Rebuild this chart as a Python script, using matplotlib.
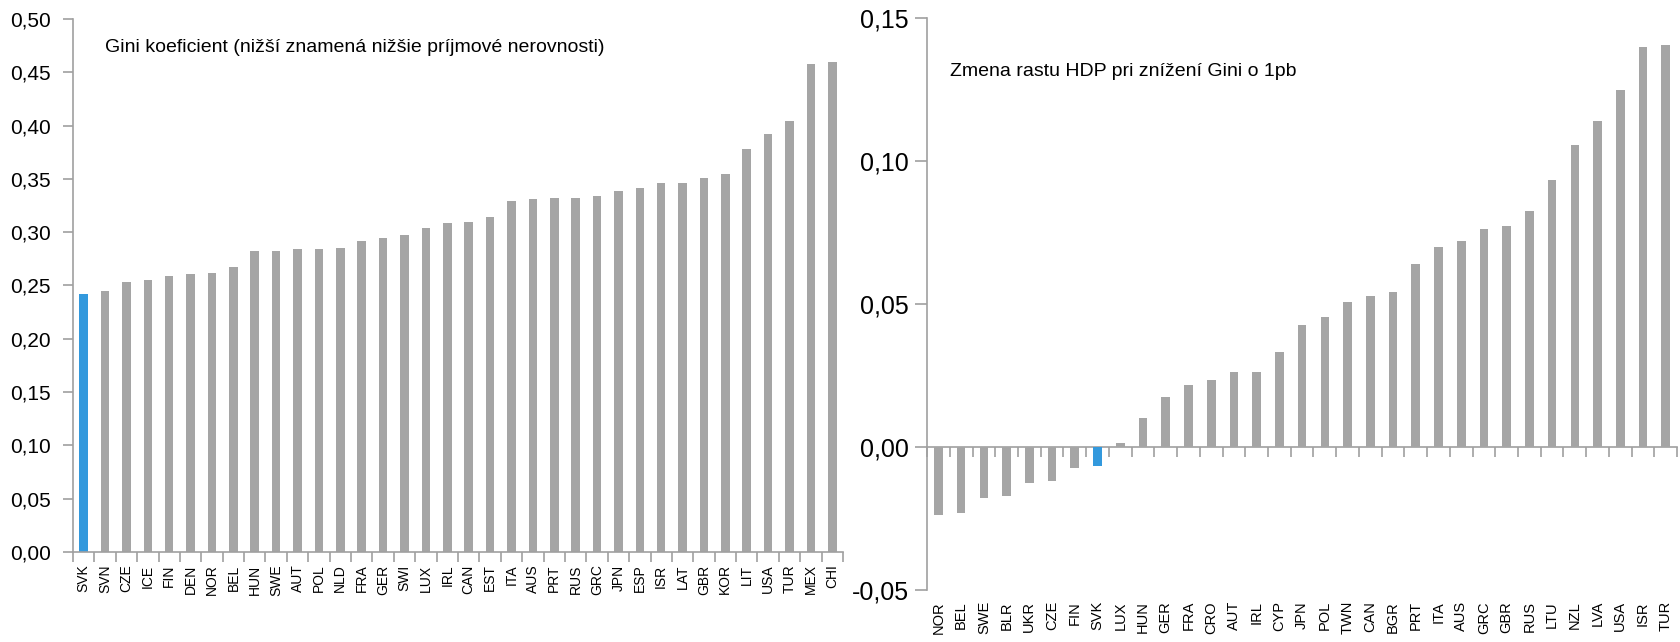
import numpy as np
import matplotlib as mpl
mpl.use('Agg')
import matplotlib.pyplot as plt
from matplotlib.ticker import FuncFormatter

# data: Gini coefficient
gini_countries = ['SVK', 'SVN', 'CZE', 'ICE', 'FIN', 'DEN', 'NOR', 'BEL', 'HUN', 'SWE',
                  'AUT', 'POL', 'NLD', 'FRA', 'GER', 'SWI', 'LUX', 'IRL', 'CAN', 'EST',
                  'ITA', 'AUS', 'PRT', 'RUS', 'GRC', 'JPN', 'ESP', 'ISR', 'LAT', 'GBR',
                  'KOR', 'LIT', 'USA', 'TUR', 'MEX', 'CHI']
gini_values = [0.242, 0.245, 0.253, 0.255, 0.259, 0.261, 0.262, 0.267, 0.282, 0.282,
               0.284, 0.284, 0.285, 0.292, 0.295, 0.297, 0.304, 0.309, 0.310, 0.314,
               0.329, 0.331, 0.332, 0.332, 0.334, 0.339, 0.341, 0.346, 0.346, 0.351,
               0.355, 0.378, 0.392, 0.404, 0.458, 0.460]

# data: change of GDP growth when Gini falls by 1pp
gdp_countries = ['NOR', 'BEL', 'SWE', 'BLR', 'UKR', 'CZE', 'FIN', 'SVK', 'LUX', 'HUN',
                 'GER', 'FRA', 'CRO', 'AUT', 'IRL', 'CYP', 'JPN', 'POL', 'TWN', 'CAN',
                 'BGR', 'PRT', 'ITA', 'AUS', 'GRC', 'GBR', 'RUS', 'LTU', 'NZL', 'LVA',
                 'USA', 'ISR', 'TUR']
gdp_values = [-0.0238, -0.0230, -0.0177, -0.0170, -0.0126, -0.0118, -0.0073, -0.0065, 0.0013, 0.0101,
              0.0174, 0.0218, 0.0234, 0.0262, 0.0262, 0.0331, 0.0427, 0.0455, 0.0506, 0.0528,
              0.0543, 0.0639, 0.0699, 0.0720, 0.0763, 0.0771, 0.0824, 0.0933, 0.1056, 0.1140,
              0.1248, 0.1397, 0.1406]

highlight = 'SVK'
gray = '#a5a5a5'
blue = '#3399dd'
axis_color = '#a0a0a0'

plt.rcParams['font.family'] = ['Liberation Sans Narrow', 'Liberation Sans', 'DejaVu Sans']

fmt = FuncFormatter(lambda v, p: ('%.2f' % v).replace('.', ','))

fig = plt.figure(figsize=(16.81, 6.42), dpi=100)


def style_axes(ax, n):
    for s in ['top', 'right']:
        ax.spines[s].set_visible(False)
    for s in ['left', 'bottom']:
        ax.spines[s].set_color(axis_color)
        ax.spines[s].set_linewidth(1.2)
    ax.set_xlim(-0.5, n - 0.5)
    ax.tick_params(axis='y', colors=axis_color, labelcolor='black', length=7, width=1.2)
    ax.yaxis.set_major_formatter(fmt)


def bar_colors(names):
    return [blue if c == highlight else gray for c in names]


# left chart
ax1 = fig.add_axes([0.0434, 0.1402, 0.4581, 0.8302])
n1 = len(gini_countries)
x1 = np.arange(n1)
ax1.bar(x1, gini_values, width=0.4, color=bar_colors(gini_countries))
style_axes(ax1, n1)
ax1.set_ylim(0, 0.5)
ax1.set_yticks(np.arange(0, 0.501, 0.05))
ax1.tick_params(axis='y', labelsize=15, pad=9)
ax1.set_xticks(np.arange(n1 + 1) - 0.5)
ax1.set_xticklabels([])
ax1.set_xticks(x1, minor=True)
ax1.set_xticklabels(gini_countries, minor=True, rotation=90, fontsize=10)
ax1.tick_params(axis='x', which='major', colors=axis_color, length=7, width=1.2)
ax1.tick_params(axis='x', which='minor', length=0, pad=9)
ax1.text(0.042, 0.947, 'Gini koeficient (nižší znamená nižšie príjmové nerovnosti)',
         transform=ax1.transAxes, fontsize=14, va='center')

# right chart
ax2 = fig.add_axes([0.5515, 0.0810, 0.4462, 0.8910])
n2 = len(gdp_countries)
x2 = np.arange(n2)
ax2.bar(x2, gdp_values, width=0.38, color=bar_colors(gdp_countries))
style_axes(ax2, n2)
ax2.set_ylim(-0.05, 0.15)
ax2.set_yticks(np.arange(-0.05, 0.151, 0.05))
ax2.tick_params(axis='y', labelsize=18, pad=4, length=9)
ax2.spines['bottom'].set_visible(False)
ax2.set_xticks(x2)
ax2.set_xticklabels(gdp_countries, rotation=90, fontsize=10.5)
ax2.tick_params(axis='x', length=0, pad=8)

# zero line with category boundary ticks
zero = ax2.secondary_xaxis(0, transform=ax2.transData)
zero.spines['bottom'].set_color(axis_color)
zero.spines['bottom'].set_linewidth(1.2)
zero.set_xticks(np.arange(n2 + 1) - 0.5)
zero.set_xticklabels([])
zero.tick_params(axis='x', colors=axis_color, length=7, width=1.2)

ax2.text(0.031, 0.906, 'Zmena rastu HDP pri znížení Gini o 1pb',
         transform=ax2.transAxes, fontsize=14, va='center')

plt.savefig('out.png', dpi=100)
